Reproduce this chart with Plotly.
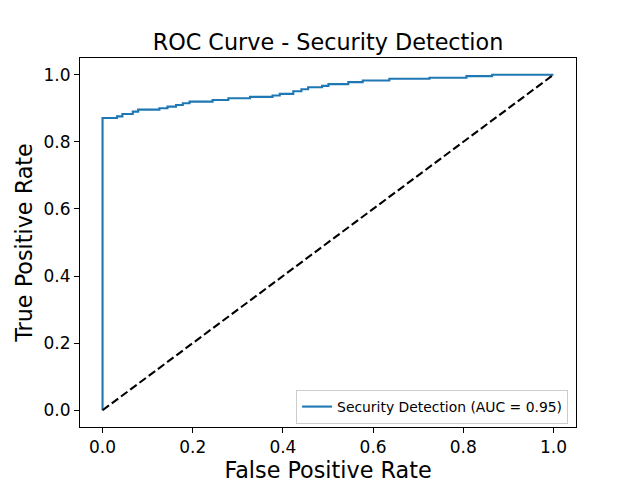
import plotly.graph_objects as go

# ROC curve corner points
fpr = [0.0, 0.0, 0.032, 0.044, 0.067, 0.079, 0.126, 0.144, 0.163, 0.178, 0.193,
       0.244, 0.279, 0.327, 0.377, 0.393, 0.423, 0.441, 0.456, 0.487, 0.501,
       0.545, 0.577, 0.636, 0.725, 0.807, 0.864, 1.0]
tpr = [0.0, 0.871, 0.876, 0.883, 0.890, 0.896, 0.900, 0.905, 0.910, 0.915, 0.920,
       0.925, 0.930, 0.934, 0.938, 0.943, 0.951, 0.957, 0.963, 0.967, 0.972,
       0.978, 0.983, 0.988, 0.991, 0.996, 1.0, 1.0]
chance_x = [0, 1]
chance_y = [0, 1]
auc_label = "Security Detection (AUC = 0.95)"
tick_vals = [0.0, 0.2, 0.4, 0.6, 0.8, 1.0]

FONT = "DejaVu Sans"
OFF = 8  # page body margin offset in the browser

fig = go.Figure()
fig.add_trace(go.Scatter(
    x=fpr, y=tpr, mode="lines", line=dict(color="#1f77b4", width=2.1, shape="hv"),
    name=auc_label, showlegend=True))
fig.add_trace(go.Scatter(
    x=chance_x, y=chance_y, mode="lines",
    line=dict(color="black", width=2.1, dash="8px,3.5px"), showlegend=False))

axis_common = dict(
    showgrid=False, zeroline=False, showline=True, linecolor="black", linewidth=1,
    mirror=True, ticks="outside", ticklen=5, tickwidth=1, tickcolor="black",
    tickvals=tick_vals, tickformat=".1f", automargin=False,
    tickfont=dict(family=FONT, size=17, color="black"),
    range=[-0.05, 1.05],
)

fig.update_layout(
    width=640, height=480,
    margin=dict(l=80 - OFF, r=64 + OFF, t=57.6 - OFF, b=52.8 + OFF, autoexpand=False),
    paper_bgcolor="white", plot_bgcolor="white",
    font=dict(family=FONT, color="black"),
    title=dict(text="ROC Curve - Security Detection", x=0.5, xref="paper",
               y=1 - (42 - OFF) / 480, yanchor="middle", yref="container", automargin=False,
               font=dict(family=FONT, size=22.3, color="black")),
    xaxis=dict(**axis_common,
               title=dict(text="False Positive Rate", standoff=2,
                          font=dict(family=FONT, size=22.3, color="black"))),
    yaxis=dict(**axis_common,
               title=dict(text="True Positive Rate", standoff=4,
                          font=dict(family=FONT, size=22.3, color="black"))),
    legend=dict(x=0.984, y=0.008, xanchor="right", yanchor="bottom",
                bgcolor="rgba(255,255,255,0.8)", bordercolor="#cccccc", borderwidth=1,
                font=dict(family=FONT, size=13.9, color="black"),
                itemwidth=30),
)

fig.write_html("out.html")
